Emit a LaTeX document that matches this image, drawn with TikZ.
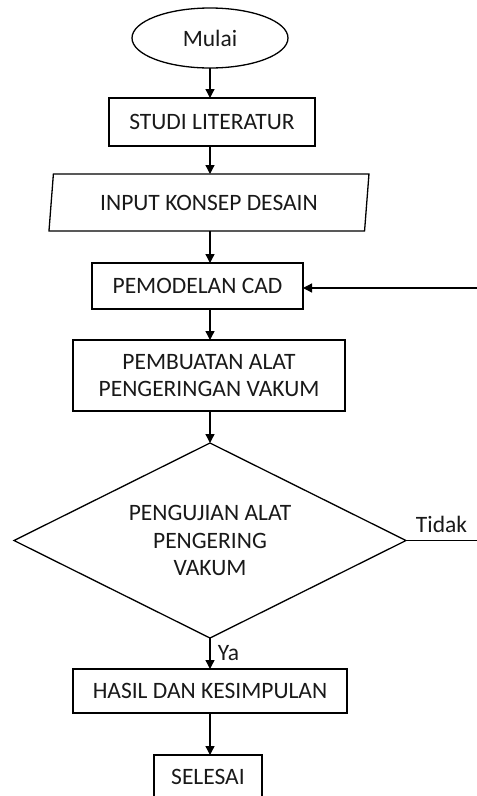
\documentclass[tikz,border=0pt]{standalone}
\usepackage{fontspec}
\setmainfont{Carlito}
\usetikzlibrary{shapes.geometric,arrows.meta,positioning}

\begin{document}
\begin{tikzpicture}[
    font=\fontsize{23.5pt}{27.5pt}\selectfont,
    line width=1.3pt,
    text=black!90,
    node distance=30pt,
    arr/.style={-{Triangle[width=9pt,length=9pt]}},
    box/.style={draw, rectangle, minimum height=46pt, align=center, inner sep=0pt, outer sep=0pt},
    term/.style={draw, ellipse, minimum width=156pt, minimum height=60pt, inner sep=0pt, outer sep=0pt},
    io/.style={draw, trapezium, trapezium left angle=74, trapezium right angle=106, trapezium stretches body, minimum width=320pt, minimum height=57pt, inner sep=0pt, outer sep=0pt},
    decide/.style={draw, diamond, aspect=2, minimum width=392pt, minimum height=195pt, align=center, inner sep=0pt, outer sep=0pt}
]
\useasboundingbox (0,0) rectangle (477pt,-796pt);

% alur utama
\node[term] (mulai) at (210pt,-38pt) {Mulai};
\node[box, minimum width=206pt, minimum height=48pt, below=30pt of mulai, xshift=2pt] (studi) {STUDI LITERATUR};
\node[io, below=28pt of studi, xshift=-3pt] (input) {INPUT KONSEP DESAIN};
\node[box, minimum width=211pt, below=32pt of input, xshift=-11.5pt] (cad) {PEMODELAN CAD};
\node[box, minimum width=272pt, minimum height=71pt, below=31pt of cad, xshift=11.5pt] (buat) {PEMBUATAN ALAT\\PENGERINGAN VAKUM};
\node[decide, below=32pt of buat, xshift=1pt] (uji) {PENGUJIAN ALAT\\PENGERING\\VAKUM};
\node[box, minimum width=274pt, minimum height=44pt, below=31pt of uji] (hasil) {HASIL DAN KESIMPULAN};
\node[box, minimum width=108pt, minimum height=44pt, below=42pt of hasil, xshift=-2pt] (selesai) {SELESAI};

% ujung di tepi kanan
\coordinate (kembali) at (477pt,-288pt);
\coordinate (tidak) at ([xshift=71pt]uji.east);

\draw[arr] (mulai.south) -- (mulai.south |- studi.north);
\draw[arr] (mulai.south |- studi.south) -- (mulai.south |- input.north);
\draw[arr] (mulai.south |- input.south) -- (mulai.south |- cad.north);
\draw[arr] (mulai.south |- cad.south) -- (mulai.south |- buat.north);
\draw[arr] (mulai.south |- buat.south) -- (uji.north);
\draw[arr] (uji.south) -- node[right, xshift=4pt]{Ya} (hasil.north);
\draw[arr] (hasil.south) -- (hasil.south |- selesai.north);

\draw (uji.east) -- node[above, yshift=4pt]{Tidak} (tidak);
\draw[arr] (kembali) -- (cad.east |- kembali);

\end{tikzpicture}
\end{document}
